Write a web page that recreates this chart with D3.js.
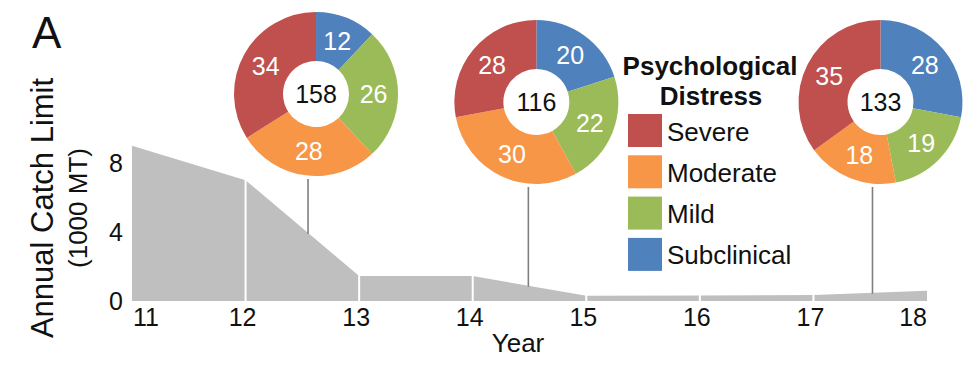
<!DOCTYPE html>
<html><head><meta charset="utf-8">
<script src="https://cdn.jsdelivr.net/npm/d3@7"></script>
<style>
body{margin:0;background:#fff}
svg{display:block}
text{font-family:"Liberation Sans",Arial,Helvetica,sans-serif}
</style>
</head><body>
<svg id="chart" width="980" height="374"></svg>
<script>
// ---- data ----
const years = [11, 12, 13, 14, 15, 16, 17, 18];
const catchLimit = [9.0, 7.0, 1.45, 1.45, 0.3, 0.32, 0.35, 0.6];
const yTicks = [0, 4, 8];
const categories = ["Severe", "Moderate", "Mild", "Subclinical"];
const surveyYears = [12.55, 14.49, 17.52];
const surveyTotals = [158, 116, 133];
const severe = [34, 28, 35];
const moderate = [28, 30, 18];
const mild = [26, 22, 19];
const subclinical = [12, 20, 28];

// ---- styles / layout ----
const catColors = {Severe: "#C0504D", Moderate: "#F79646", Mild: "#9BBB59", Subclinical: "#4F81BD"};
const pieCenterY = [94, 102, 102];
const pieOffsetX = 8;
const rOuter = 82, rInner = 33;

const svg = d3.select("#chart");
const x = d3.scaleLinear().domain([11, 18]).range([132, 927]);
const y = d3.scaleLinear().domain([0, 8]).range([301, 163]);

const series = years.map((yr, i) => ({year: yr, v: catchLimit[i]}));

// area
svg.append("path")
  .datum(series)
  .attr("fill", "#BFBFBF")
  .attr("d", d3.area().x(d => x(d.year)).y0(y(0)).y1(d => y(d.v)));

// white separators at interior years
svg.append("g").selectAll("line")
  .data(series.slice(1, -1))
  .join("line")
  .attr("x1", d => x(d.year)).attr("x2", d => x(d.year))
  .attr("y1", y(0) + 1).attr("y2", d => y(d.v) - 1)
  .attr("stroke", "#fff").attr("stroke-width", 2);

// x tick labels
svg.append("g").selectAll("text")
  .data(years)
  .join("text")
  .attr("x", (d, i) => i === 0 ? x(d) + 1 : (i === years.length - 1 ? x(d) : x(d) - 3))
  .attr("y", 326)
  .attr("text-anchor", (d, i) => i === 0 ? "start" : (i === years.length - 1 ? "end" : "middle"))
  .attr("font-size", 25)
  .attr("fill", "#111")
  .text(d => d);

// y tick labels
svg.append("g").selectAll("text")
  .data(yTicks)
  .join("text")
  .attr("x", 123)
  .attr("y", d => y(d))
  .attr("dy", "0.36em")
  .attr("text-anchor", "end")
  .attr("font-size", 25)
  .attr("fill", "#111")
  .text(d => d);

// axis titles
svg.append("text")
  .attr("transform", "translate(53,208) rotate(-90)")
  .attr("text-anchor", "middle")
  .attr("font-size", 31)
  .attr("fill", "#111")
  .text("Annual Catch Limit");
svg.append("text")
  .attr("transform", "translate(87,208) rotate(-90)")
  .attr("text-anchor", "middle")
  .attr("font-size", 26)
  .attr("fill", "#111")
  .text("(1000 MT)");
svg.append("text")
  .attr("x", 518).attr("y", 352)
  .attr("text-anchor", "middle")
  .attr("font-size", 26)
  .attr("fill", "#111")
  .text("Year");

// panel label
svg.append("text")
  .attr("x", 32).attr("y", 48)
  .attr("font-size", 44)
  .attr("fill", "#111")
  .text("A");

// helper: area top at a given year (interpolated from the data)
function topAt(yr) {
  const i = d3.bisectRight(years, yr) - 1;
  const t = (yr - years[i]) / (years[i + 1] - years[i]);
  return catchLimit[i] + t * (catchLimit[i + 1] - catchLimit[i]);
}

// pies (clockwise from 12 o'clock: Subclinical, Mild, Moderate, Severe)
const pieOrder = ["Subclinical", "Mild", "Moderate", "Severe"];
const catValues = {Severe: severe, Moderate: moderate, Mild: mild, Subclinical: subclinical};
const pie = d3.pie().sort(null).value(d => d.value);
const arc = d3.arc().innerRadius(rInner).outerRadius(rOuter);

surveyYears.forEach((yr, i) => {
  const lx = x(yr);
  const cx = lx + pieOffsetX, cy = pieCenterY[i];
  // connector
  svg.append("line")
    .attr("x1", lx).attr("x2", lx)
    .attr("y1", cy + rOuter + 3).attr("y2", y(topAt(yr)) + 1)
    .attr("stroke", "#7F7F7F").attr("stroke-width", 1.6);
  const g = svg.append("g").attr("transform", `translate(${cx},${cy})`);
  const data = pieOrder.map(c => ({cat: c, value: catValues[c][i]}));
  const arcs = pie(data);
  g.selectAll("path").data(arcs).join("path")
    .attr("d", arc).attr("fill", d => catColors[d.data.cat]);
  g.selectAll("text.v").data(arcs).join("text")
    .attr("class", "v")
    .attr("x", d => arc.centroid(d)[0])
    .attr("y", d => arc.centroid(d)[1])
    .attr("dy", "0.36em")
    .attr("text-anchor", "middle")
    .attr("font-size", 25)
    .attr("fill", "#fff")
    .text(d => d.data.value);
  g.append("text")
    .attr("dy", "0.36em")
    .attr("text-anchor", "middle")
    .attr("font-size", 25)
    .attr("fill", "#111")
    .text(surveyTotals[i]);
});

// legend
const lg = svg.append("g");
lg.append("text").attr("x", 710).attr("y", 75).attr("text-anchor", "middle")
  .attr("font-size", 26).attr("font-weight", "bold").attr("fill", "#111").text("Psychological");
lg.append("text").attr("x", 711).attr("y", 105).attr("text-anchor", "middle")
  .attr("font-size", 26).attr("font-weight", "bold").attr("fill", "#111").text("Distress");
const items = lg.selectAll("g.item").data(categories).join("g")
  .attr("class", "item")
  .attr("transform", (d, i) => `translate(628,${114 + i * 41.3})`);
items.append("rect").attr("width", 34).attr("height", 33).attr("fill", d => catColors[d]);
items.append("text").attr("x", 39).attr("y", 26.5)
  .attr("font-size", 26).attr("fill", "#111").text(d => d);
</script>
</body></html>
